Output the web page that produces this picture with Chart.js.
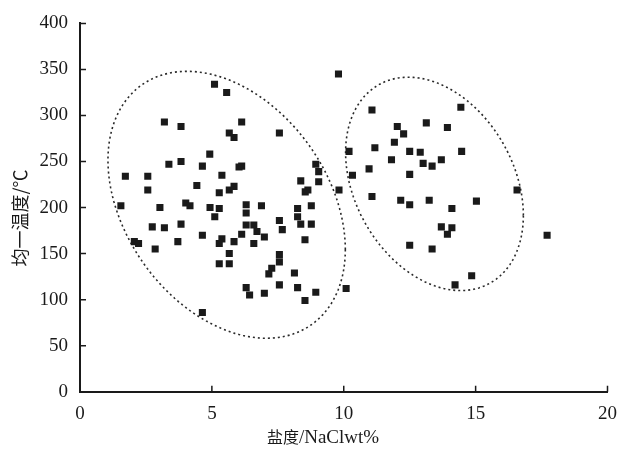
<!DOCTYPE html>
<html>
<head>
<meta charset="utf-8">
<script src="https://cdn.jsdelivr.net/npm/chart.js@4.4.1/dist/chart.umd.min.js"></script>
<style>
  html, body { margin: 0; padding: 0; background: #fff; }
  #wrap { width: 628px; height: 452px; }
</style>
</head>
<body>
<div id="wrap"><canvas id="chart" width="628" height="452"></canvas></div>
<script>
// --- DATA ---
const salinity = [
  1.55, 1.72, 2.06, 2.22, 2.57, 2.57, 2.74, 2.85, 3.03, 3.20,
  3.20, 3.37, 3.71, 3.83, 3.83, 3.83, 4.01, 4.17, 4.43, 4.64,
  4.64, 4.64, 4.92, 4.93, 5.10, 5.11, 5.28, 5.28, 5.28, 5.28,
  5.38, 5.38, 5.56, 5.66, 5.84, 5.66, 5.84, 5.84, 5.66, 5.66,
  6.13, 6.03, 6.13, 6.13, 6.30, 6.30, 6.30, 6.30, 6.43, 6.59,
  6.59, 6.71, 6.88, 6.99, 6.99, 7.16, 7.27, 7.56, 7.56, 7.67,
  7.56, 7.56, 7.56, 8.13, 8.25, 8.25, 8.25, 8.37, 8.37, 8.54,
  8.64, 8.53, 8.53, 8.77, 8.77, 8.94, 8.94, 9.05, 9.05, 9.80,
  9.82, 10.09,
  10.20, 10.33, 10.96, 11.07, 11.07, 11.18, 11.81, 11.92, 12.03, 12.16,
  12.27, 12.50, 12.50, 12.50, 12.50, 12.90, 13.01, 13.13, 13.24, 13.35,
  13.35, 13.70, 13.70, 13.93, 13.93, 14.10, 14.10, 14.22, 14.44, 14.47,
  14.85, 15.03, 16.57, 17.71
];
const homogTemp = [
  202, 234, 163, 161, 234, 219, 179, 155, 200, 178,
  293, 247, 163, 288, 250, 182, 205, 202, 224, 245,
  170, 86, 258, 200, 334, 190, 216, 199, 161, 139,
  235, 166, 325, 281, 276, 219, 223, 163, 150, 139,
  293, 244, 245, 171, 203, 194, 181, 113, 105, 181,
  161, 174, 202, 168, 107, 128, 134, 281, 186, 176,
  149, 141, 116, 129, 199, 190, 113, 229, 182, 217,
  219, 165, 99, 202, 182, 247, 108, 239, 228, 345,
  219, 112,
  261, 235, 242, 306, 212, 265, 252, 271, 288, 208,
  280, 261, 236, 203, 159, 260, 248, 292, 208, 245,
  155, 252, 179, 287, 171, 199, 178, 116, 309, 261,
  126, 207, 219, 170
];
const xTicks = [0, 5, 10, 15, 20];
const yTicks = [0, 50, 100, 150, 200, 250, 300, 350, 400];
const xTitle = ['盐度', '/NaClwt%'];
const yTitle = '均一温度/℃';

// dotted group outlines: centre plus two conjugate half-axes, in data units
const groupLeft = { cx: 5.56, cy: 203, ux: 4.50, uy: -48.5, vx: 0, vy: 136.6 };
const groupRight = { cx: 13.44, cy: 225.7, ux: 3.37, uy: -34.2, vx: 0, vy: 110.7 };

const points = salinity.map((s, i) => ({ x: s, y: homogTemp[i] }));

const SERIF = '"Liberation Serif", "DejaVu Serif", serif';
const CJK = '"Noto Sans CJK SC", sans-serif';
const INK = '#1a1a1a';

const decor = {
  id: 'decor',
  beforeDatasetsDraw(chart) {
    const { ctx, scales: { x, y } } = chart;
    ctx.save();
    ctx.setLineDash([2, 3]);
    ctx.lineWidth = 1.6;
    ctx.strokeStyle = '#2a2a2a';
    [groupLeft, groupRight].forEach(e => {
      ctx.beginPath();
      for (let i = 0; i <= 180; i++) {
        const t = i / 180 * Math.PI * 2;
        const px = x.getPixelForValue(e.cx + e.ux * Math.cos(t) + e.vx * Math.sin(t));
        const py = y.getPixelForValue(e.cy + e.uy * Math.cos(t) + e.vy * Math.sin(t));
        if (i === 0) ctx.moveTo(px, py); else ctx.lineTo(px, py);
      }
      ctx.stroke();
    });
    ctx.restore();
  },
  afterDraw(chart) {
    const { ctx, chartArea: a, scales: { x, y } } = chart;
    ctx.save();
    // inward tick marks
    ctx.strokeStyle = INK;
    ctx.lineWidth = 1.5;
    ctx.beginPath();
    xTicks.forEach(v => {
      const px = x.getPixelForValue(v);
      ctx.moveTo(px, a.bottom);
      ctx.lineTo(px, a.bottom - 6);
    });
    yTicks.forEach(v => {
      const py = y.getPixelForValue(v);
      ctx.moveTo(a.left, py);
      ctx.lineTo(a.left + 6, py);
    });
    ctx.stroke();

    // axis titles
    ctx.fillStyle = INK;
    ctx.textBaseline = 'middle';
    ctx.font = '16px ' + CJK;
    const w1 = ctx.measureText(xTitle[0]).width;
    ctx.font = '19px ' + SERIF;
    const w2 = ctx.measureText(xTitle[1]).width;
    let sx = 323 - (w1 + w2) / 2;
    ctx.font = '16px ' + CJK;
    ctx.fillText(xTitle[0], sx, 437);
    ctx.font = '19px ' + SERIF;
    ctx.fillText(xTitle[1], sx + w1, 438);

    ctx.translate(20, 218);
    ctx.rotate(-Math.PI / 2);
    ctx.textAlign = 'center';
    ctx.font = '18px ' + CJK;
    ctx.fillText(yTitle, 0, 0);
    ctx.restore();
  }
};

new Chart(document.getElementById('chart'), {
  type: 'scatter',
  data: {
    datasets: [{
      data: points,
      pointStyle: 'rect',
      pointRadius: 5,
      pointHoverRadius: 5,
      backgroundColor: INK,
      borderWidth: 0
    }]
  },
  options: {
    responsive: false,
    animation: false,
    devicePixelRatio: 1,
    layout: { padding: { top: 12, right: 17, left: 0, bottom: 0 } },
    plugins: { legend: { display: false }, tooltip: { enabled: false } },
    scales: {
      x: {
        type: 'linear',
        min: 0, max: 20,
        afterFit: s => { s.height = 60.3; },
        afterBuildTicks: s => { s.ticks = xTicks.map(v => ({ value: v })); },
        grid: { display: false, drawTicks: false },
        border: { display: true, color: INK, width: 2 },
        ticks: { color: INK, padding: 11, font: { family: SERIF, size: 19 } }
      },
      y: {
        type: 'linear',
        min: 0, max: 400,
        afterFit: s => { s.width = 80; },
        afterBuildTicks: s => { s.ticks = yTicks.map(v => ({ value: v })); },
        grid: { display: false, drawTicks: false },
        border: { display: true, color: INK, width: 2 },
        ticks: { color: INK, padding: 12, font: { family: SERIF, size: 19 } }
      }
    }
  },
  plugins: [decor]
});
</script>
</body>
</html>
